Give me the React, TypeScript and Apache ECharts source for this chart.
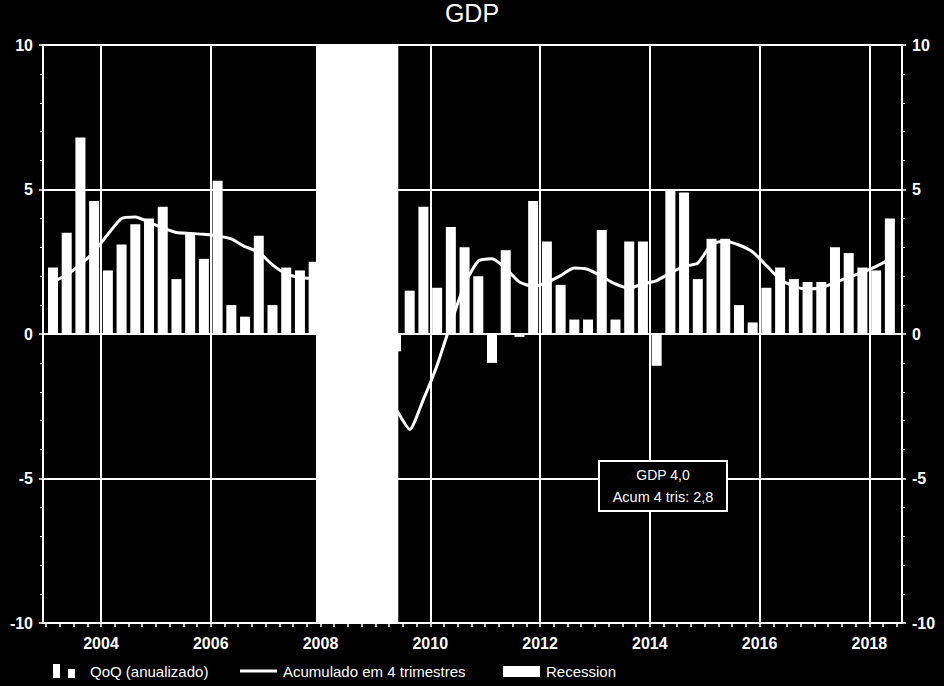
import React, { useEffect, useRef } from "react";
import * as echarts from "echarts";

const quarters: string[] = [];
for (let y = 2003; y <= 2018; y++) {
  for (let q = 1; q <= 4; q++) {
    if (y === 2018 && q > 2) break;
    quarters.push(`${y}Q${q}`);
  }
}

const qoq = [
  2.3, 3.5, 6.8, 4.6,
  2.2, 3.1, 3.8, 4.0,
  4.4, 1.9, 3.5, 2.6,
  5.3, 1.0, 0.6, 3.4,
  1.0, 2.3, 2.2, 2.5,
  -2.3, 2.1, -2.1, -8.4,
  -4.4, -0.6, 1.5, 4.4,
  1.6, 3.7, 3.0, 2.0,
  -1.0, 2.9, -0.1, 4.6,
  3.2, 1.7, 0.5, 0.5,
  3.6, 0.5, 3.2, 3.2,
  -1.1, 5.0, 4.9, 1.9,
  3.3, 3.3, 1.0, 0.4,
  1.6, 2.3, 1.9, 1.8,
  1.8, 3.0, 2.8, 2.3,
  2.2, 4.0,
];

const acum4 = [
  1.8, 2.05, 2.4, 2.85,
  3.45, 4.0, 4.05, 3.87,
  3.67, 3.51, 3.48, 3.45,
  3.39, 3.29, 3.02, 2.83,
  2.39, 2.08, 1.95, 1.9,
  1.4, 1.0, -0.1, -1.5,
  -2.0, -2.6, -3.3, -2.26,
  -1.08, 0.36, 1.71, 2.52,
  2.6, 2.27, 1.8, 1.65,
  1.78, 2.02, 2.28, 2.23,
  1.99, 1.73, 1.59, 1.73,
  1.85, 2.11, 2.34, 2.45,
  3.11, 3.21, 3.08, 2.84,
  2.37, 1.89, 1.65, 1.56,
  1.6, 1.78, 1.96, 2.13,
  2.34, 2.58,
];

const yearLabels = [2004, 2006, 2008, 2010, 2012, 2014, 2016, 2018];
const recession = [2007.917, 2009.417];
const yTicks = [-10, -5, 0, 5, 10];

const quarterPos = (s: string) => {
  const y = parseInt(s.slice(0, 4), 10);
  const q = parseInt(s.slice(5), 10);
  return y + (q - 1) * 0.25 + 0.125;
};

const FONT = "Liberation Sans, Arial, sans-serif";

export default function App() {
  const ref = useRef<HTMLDivElement>(null);
  useEffect(() => {
    if (!ref.current) return;
    const chart = echarts.init(ref.current, undefined, { renderer: "svg" });
    const tickVals: number[] = [];
    for (let v = 2003; v <= 2018.5001; v += 0.25) tickVals.push(Math.round(v * 100) / 100);
    const barData = quarters.map((q, i) => [quarterPos(q), qoq[i]]);
    const lineData = quarters.map((q, i) => [quarterPos(q), acum4[i]]);
    const yAxisBase = {
      type: "value",
      min: yTicks[0],
      max: yTicks[yTicks.length - 1],
      interval: 5,
      axisLine: { show: true, lineStyle: { color: "#fff", width: 2 } },
      axisTick: { show: true, length: 4, lineStyle: { color: "#fff", width: 1.5 } },
      minorTick: { show: true, splitNumber: 5, length: 3, lineStyle: { color: "#fff", width: 1 } },
      axisLabel: { color: "#fff", fontSize: 16, fontWeight: "bold", fontFamily: FONT, margin: 10 },
    };
    const Z = 100;
    chart.setOption({
      animation: false,
      backgroundColor: "#000",
      title: {
        text: "GDP",
        left: "center",
        top: 0,
        padding: 0,
        textStyle: { color: "#fff", fontSize: 25, fontWeight: "normal", fontFamily: FONT },
      },
      grid: {
        left: 43,
        right: 42,
        top: 45,
        bottom: 63,
        show: true,
        borderColor: "#fff",
        borderWidth: 2,
        backgroundColor: "#000",
      },
      xAxis: {
        type: "value",
        min: 2002.943,
        max: 2018.596,
        splitLine: { show: false },
        axisLine: { show: true, onZero: false, lineStyle: { color: "#fff", width: 2 } },
        axisTick: {
          show: true,
          length: 4,
          customValues: tickVals,
          lineStyle: { color: "#fff", width: 1.5 },
        },
        axisLabel: {
          customValues: yearLabels,
          formatter: (v: number) => String(Math.round(v)),
          color: "#fff",
          fontSize: 16,
          fontWeight: "bold",
          fontFamily: FONT,
          margin: 12,
        },
      },
      yAxis: [
        {
          ...yAxisBase,
          position: "left",
          splitLine: { show: true, lineStyle: { color: "#fff", width: 2 } },
        },
        {
          ...yAxisBase,
          position: "right",
          splitLine: { show: false },
        },
      ],
      series: [
        {
          name: "QoQ (anualizado)",
          type: "bar",
          data: barData,
          barWidth: 10,
          itemStyle: { color: "#fff" },
          z: 2,
          markArea: {
            silent: true,
            itemStyle: { color: "#fff", opacity: 1 },
            data: [[{ xAxis: recession[0] }, { xAxis: recession[1] }]],
          },
        },
        {
          name: "Acumulado em 4 trimestres",
          type: "line",
          data: lineData,
          smooth: 0.2,
          showSymbol: false,
          symbol: "none",
          lineStyle: { color: "#fff", width: 3 },
          z: 3,
          markLine: {
            silent: true,
            symbol: ["none", "none"],
            label: { show: false },
            lineStyle: { color: "#fff", width: 2, type: "solid" },
            data: yearLabels.map((y) => ({ xAxis: y })),
          },
        },
      ],
      graphic: [
        {
          type: "rect",
          z: Z,
          shape: { x: 599, y: 461, width: 128, height: 50 },
          style: { fill: "#000", stroke: "#fff", lineWidth: 2 },
        },
        {
          type: "text",
          z: Z + 1,
          x: 663,
          y: 475,
          style: {
            text: "GDP 4,0",
            fill: "#fff",
            font: `14px ${FONT}`,
            textAlign: "center",
            textVerticalAlign: "middle",
          },
        },
        {
          type: "text",
          z: Z + 1,
          x: 663,
          y: 497,
          style: {
            text: "Acum 4 tris: 2,8",
            fill: "#fff",
            font: `14.5px ${FONT}`,
            textAlign: "center",
            textVerticalAlign: "middle",
          },
        },
        { type: "rect", z: Z, shape: { x: 53, y: 664, width: 7, height: 14 }, style: { fill: "#fff" } },
        { type: "rect", z: Z, shape: { x: 68, y: 669, width: 7, height: 9 }, style: { fill: "#fff" } },
        {
          type: "text",
          z: Z,
          x: 90,
          y: 671,
          style: { text: "QoQ (anualizado)", fill: "#fff", font: `15px ${FONT}`, textVerticalAlign: "middle" },
        },
        {
          type: "line",
          z: Z,
          shape: { x1: 240, y1: 671, x2: 277, y2: 671 },
          style: { stroke: "#fff", lineWidth: 3 },
        },
        {
          type: "text",
          z: Z,
          x: 283,
          y: 671,
          style: { text: "Acumulado em 4 trimestres", fill: "#fff", font: `15px ${FONT}`, textVerticalAlign: "middle" },
        },
        { type: "rect", z: Z, shape: { x: 503, y: 666, width: 37, height: 11 }, style: { fill: "#fff" } },
        {
          type: "text",
          z: Z,
          x: 546,
          y: 671,
          style: { text: "Recession", fill: "#fff", font: `15px ${FONT}`, textVerticalAlign: "middle" },
        },
      ],
    });
    return () => chart.dispose();
  }, []);
  return (
    <div
      ref={ref}
      style={{ position: "fixed", left: 0, top: 0, width: 944, height: 686, background: "#000" }}
    />
  );
}
